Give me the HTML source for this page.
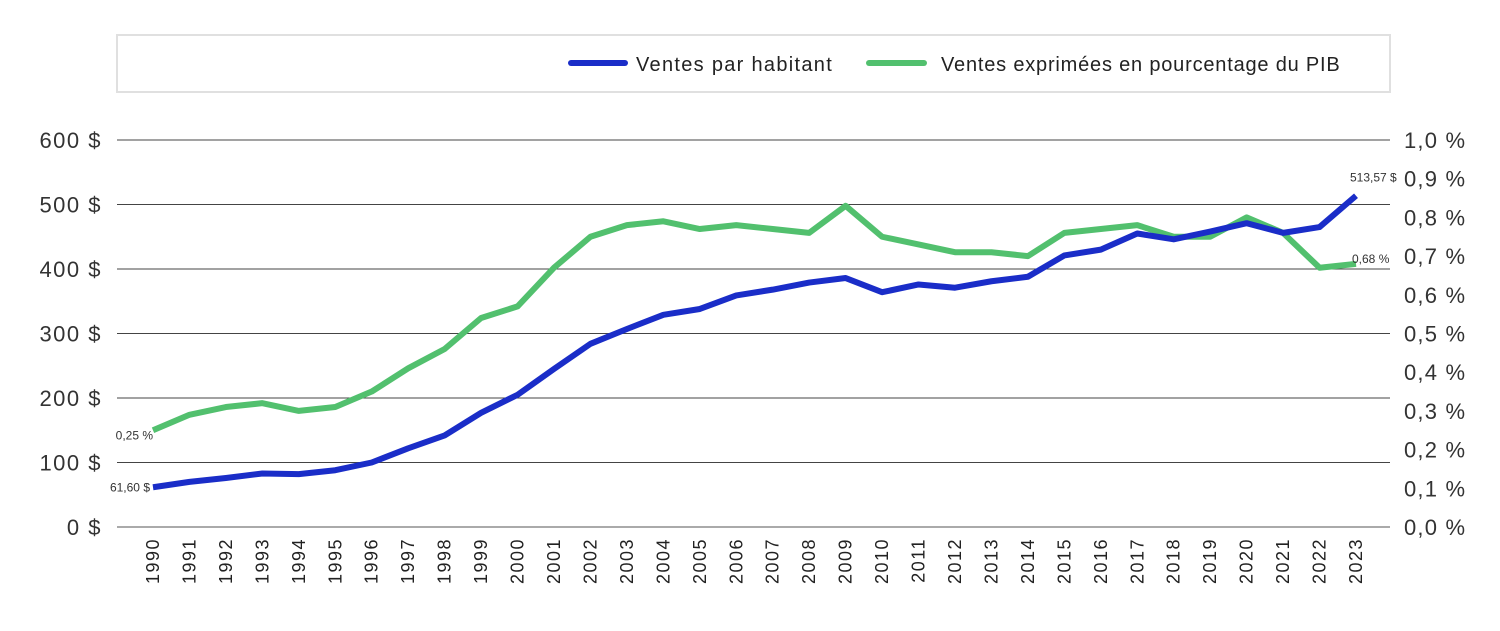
<!DOCTYPE html>
<html><head><meta charset="utf-8"><style>
body{margin:0;background:#fff;width:1500px;height:626px;overflow:hidden;font-family:"Liberation Sans",sans-serif;}
</style></head><body>
<svg id="chart" width="1500" height="626" xmlns="http://www.w3.org/2000/svg" font-family="Liberation Sans, sans-serif">
<rect x="117" y="35" width="1273" height="57" fill="#fff" stroke="#e0e0e0" stroke-width="2"/>
<g><line x1="571" y1="63" x2="625" y2="63" stroke="#1a2dc8" stroke-width="6" stroke-linecap="round"/><text x="636" y="71" font-size="20" letter-spacing="1.3" fill="#222">Ventes par habitant</text></g>
<g><line x1="869" y1="63" x2="924" y2="63" stroke="#52c06e" stroke-width="6" stroke-linecap="round"/><text x="941" y="71" font-size="20" letter-spacing="0.8" fill="#222">Ventes exprimées en pourcentage du PIB</text></g>
<g id="grid"></g><g id="axes"></g><g id="lines"></g>
</svg>
<script>
const years=[1990,1991,1992,1993,1994,1995,1996,1997,1998,1999,2000,2001,2002,2003,2004,2005,2006,2007,2008,2009,2010,2011,2012,2013,2014,2015,2016,2017,2018,2019,2020,2021,2022,2023];
const perCapita=[61.6,70,76,83,82,88,100,122,142,177,205,245,284,307,329,338,359,368,379,386,364,376,371,381,388,421,430,455,446,458,471,456,465,513.57];
const gdpShare=[0.25,0.29,0.31,0.32,0.30,0.31,0.35,0.41,0.46,0.54,0.57,0.67,0.75,0.78,0.79,0.77,0.78,0.77,0.76,0.83,0.75,0.73,0.71,0.71,0.70,0.76,0.77,0.78,0.75,0.75,0.80,0.76,0.67,0.68];
const leftTicks=[0,100,200,300,400,500,600];
const rightTicks=[0,0.1,0.2,0.3,0.4,0.5,0.6,0.7,0.8,0.9,1.0];
const NS="http://www.w3.org/2000/svg";
const x=i=>153+i*(1356-153)/(years.length-1);
const yL=v=>527-v*(387/600);
const yR=v=>527-v*387;
function mk(tag,attrs,parent,text){const e=document.createElementNS(NS,tag);for(const k in attrs)e.setAttribute(k,attrs[k]);if(text!==undefined)e.textContent=text;document.getElementById(parent).appendChild(e);return e;}
leftTicks.forEach(t=>{
 const l=mk('line',{x1:117,x2:1390,y1:yL(t),y2:yL(t),stroke:t===0?'#555':'#444','stroke-width':1},'grid');
 
 
 const tx=mk('text',{x:102,y:yL(t)+8,'font-size':22,'letter-spacing':1.5,fill:'#333','text-anchor':'end'},'axes',t+' $');
 
 
});
rightTicks.forEach(t=>{
 const tx=mk('text',{x:1404,y:yR(t)+8,'font-size':22,'letter-spacing':1.2,fill:'#333'},'axes',t.toFixed(1).replace('.',',')+' %');
 
 
});
years.forEach((yr,i)=>{
 const tx=mk('text',{x:0,y:0,'font-size':18,'letter-spacing':1.5,fill:'#222','text-anchor':'end',transform:`translate(${x(i)+6},538) rotate(-90)`},'axes',yr);
 
 
});
const pg=mk('polyline',{points:gdpShare.map((v,i)=>x(i)+','+yR(v)).join(' '),fill:'none',stroke:'#52c06e','stroke-width':6,'stroke-linejoin':'round'},'lines');


const pb=mk('polyline',{points:perCapita.map((v,i)=>x(i)+','+yL(v)).join(' '),fill:'none',stroke:'#1a2dc8','stroke-width':6,'stroke-linejoin':'round'},'lines');


const n=years.length-1;
const a1=mk('text',{x:x(0)-3,y:yL(perCapita[0])+4,'font-size':12,fill:'#333','text-anchor':'end'},'lines',perCapita[0].toFixed(2).replace('.',',')+' $');


const a2=mk('text',{x:x(0),y:yR(gdpShare[0])+9,'font-size':12,fill:'#333','text-anchor':'end'},'lines',gdpShare[0].toFixed(2).replace('.',',')+' %');


const a3=mk('text',{x:x(n)-6,y:yL(perCapita[n])-14,'font-size':12,fill:'#333'},'lines',perCapita[n].toFixed(2).replace('.',',')+' $');


const a4=mk('text',{x:x(n)-4,y:yR(gdpShare[n])-1,'font-size':12,fill:'#333'},'lines',gdpShare[n].toFixed(2).replace('.',',')+' %');


</script>
</body></html>
